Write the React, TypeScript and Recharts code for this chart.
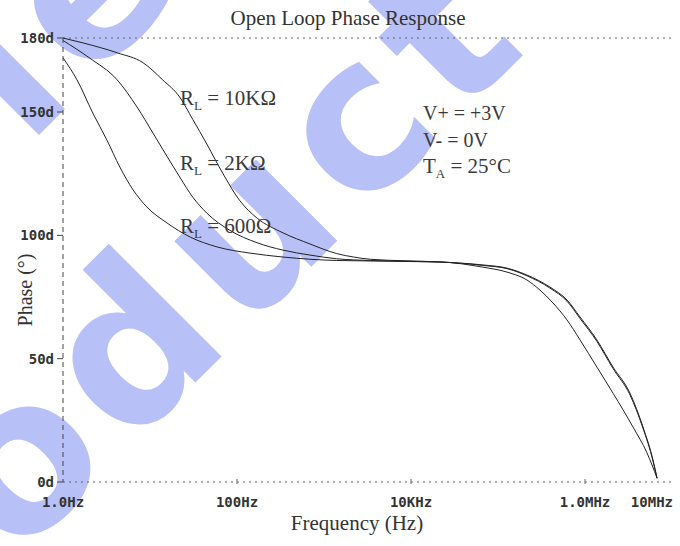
import React from 'react';
import { LineChart, Line, XAxis, YAxis, ReferenceLine } from 'recharts';

// RL = 10K
const freq10k = [1, 1.7, 4.2, 8.3, 14, 22, 31, 45, 69, 108, 170, 338, 690, 1000, 1400, 2200, 3400, 21500, 67000, 127000, 215000, 396000, 621000, 877000, 1370000, 2100000, 3290000, 4640000, 6050000, 6730000];
const phase10k = [180, 178, 174, 170, 163, 156, 147, 137, 125, 114, 107, 101, 96.5, 94.3, 92.6, 91.2, 90.3, 89.2, 88, 86.7, 83.9, 79, 73.8, 66.9, 57.6, 46.6, 36, 22.3, 8.9, 1.6];

// RL = 2K
const freq2k = [1, 2, 4.2, 7.1, 10.8, 15.7, 22, 31, 45, 83, 170, 338, 690, 1400, 3400, 21500, 67000, 127000, 215000, 396000, 621000, 877000, 1370000, 2100000, 3290000, 4640000, 6050000, 6730000];
const phase2k = [179, 172, 163, 152, 141.5, 132, 123.6, 115.5, 109, 102, 97, 94, 92, 90.5, 89.8, 89.2, 87.8, 86.5, 83.6, 78.6, 73.3, 66.3, 57, 46, 35.3, 21.8, 8.5, 1.4];

// RL = 600
const freq600 = [1, 1.45, 2.2, 3.2, 4.5, 6.4, 9.2, 15.7, 29, 59, 141, 338, 1400, 21500, 67000, 127000, 215000, 304000, 428000, 621000, 877000, 1370000, 2100000, 3560000, 5160000, 6730000];
const phase600 = [172, 163, 149.6, 138.6, 127.7, 118.4, 111.5, 105, 99.3, 95.3, 92.8, 91.2, 89.8, 89.2, 87.1, 85.1, 81.9, 77.8, 72.6, 65.7, 57.6, 46.6, 36, 22.3, 11.8, 1.6];

const xTicks = [1, 100, 1e4, 1e6, 1e7];
const xTickLabels = ['1.0Hz', '100Hz', '10KHz', '1.0MHz', '10MHz'];
const yTicks = [0, 50, 100, 150, 180];

const toRows = (f: number[], p: number[]) => f.map((v, i) => ({ f: v, phase: p[i] }));

const serif = '"Liberation Serif", "Times New Roman", serif';
const mono = '"DejaVu Sans Mono", monospace';

const XTick = (props: any) => {
  const { x, y, payload } = props;
  const i = xTicks.indexOf(payload.value);
  const last = i === xTicks.length - 1;
  return (
    <g>
      {i > 0 && !last && <line x1={x} x2={x} y1={y - 3} y2={y + 2} stroke="#666" />}
      <text
        x={last ? x + 1 : x}
        y={y + 25}
        textAnchor={last ? 'end' : 'middle'}
        fontFamily={mono}
        fontSize={14}
        fontWeight="bold"
        fill="#333"
      >
        {xTickLabels[i]}
      </text>
    </g>
  );
};

const Sub = ({ x, y, main, sub, rest }: any) => (
  <text x={x} y={y} fontFamily={serif} fontSize={21} fill="#3a3a3a">
    {main}
    <tspan fontSize={13} dy={5}>{sub}</tspan>
    <tspan dy={-5}>{rest}</tspan>
  </text>
);

export default function App() {
  return (
    <div style={{ position: 'relative', width: 680, height: 546 }}>
      <style>{'body{margin:0}'}</style>
      <svg width={680} height={546} style={{ position: 'absolute', left: 0, top: 0 }}>
        <g fontFamily='"DejaVu Sans", sans-serif' fontWeight="bold" fontSize={210} letterSpacing={14} fill="#b8c0f8">
          <text transform="translate(-436,610) rotate(-45)">Obsolete</text>
          <text transform="translate(-186,764) rotate(-45)">Product</text>
        </g>
      </svg>
      <LineChart
        width={680}
        height={546}
        margin={{ top: 38, right: 8, bottom: 34, left: 0 }}
        style={{ position: 'absolute', left: 0, top: 0 }}
      >
        <XAxis
          dataKey="f"
          type="number"
          scale="log"
          domain={[1, 1e7]}
          ticks={xTicks}
          interval={0}
          allowDataOverflow
          height={30}
          tickSize={0}
          tickMargin={0}
          tick={<XTick />}
          axisLine={{ stroke: '#666', strokeDasharray: '2 4' }}
          tickLine={false}
        />
        <YAxis
          type="number"
          domain={[0, 180]}
          ticks={yTicks}
          interval={0}
          width={63}
          tickSize={6}
          tickMargin={3}
          tickFormatter={(v: number) => `${v}d`}
          tick={{ fontFamily: mono, fontSize: 14, fontWeight: 'bold', fill: '#333' }}
          axisLine={{ stroke: '#444', strokeDasharray: '5 4' }}
          tickLine={{ stroke: '#444' }}
        />
        <ReferenceLine y={180} stroke="#666" strokeDasharray="2 4" />
        <Line data={toRows(freq10k, phase10k)} dataKey="phase" type="monotone" stroke="#222" strokeWidth={1} dot={false} isAnimationActive={false} />
        <Line data={toRows(freq2k, phase2k)} dataKey="phase" type="monotone" stroke="#222" strokeWidth={1} dot={false} isAnimationActive={false} />
        <Line data={toRows(freq600, phase600)} dataKey="phase" type="monotone" stroke="#222" strokeWidth={1} dot={false} isAnimationActive={false} />
      </LineChart>
      <svg width={680} height={546} style={{ position: 'absolute', left: 0, top: 0, pointerEvents: 'none' }}>
        <text x={348} y={25} textAnchor="middle" fontFamily={serif} fontSize={21} fill="#333">Open Loop Phase Response</text>
        <text x={357} y={530} textAnchor="middle" fontFamily={serif} fontSize={21} fill="#333">Frequency (Hz)</text>
        <text transform="translate(32,290) rotate(-90)" textAnchor="middle" fontFamily={serif} fontSize={20} fill="#333">Phase (°)</text>
        <Sub x={180} y={105} main="R" sub="L" rest=" = 10KΩ" />
        <Sub x={180} y={170} main="R" sub="L" rest=" = 2KΩ" />
        <Sub x={180} y={233} main="R" sub="L" rest=" = 600Ω" />
        <text x={423} y={120} fontFamily={serif} fontSize={20} fill="#3a3a3a">V+ = +3V</text>
        <text x={423} y={147} fontFamily={serif} fontSize={20} fill="#3a3a3a">V- = 0V</text>
        <Sub x={423} y={173} main="T" sub="A" rest=" = 25°C" />
      </svg>
    </div>
  );
}
